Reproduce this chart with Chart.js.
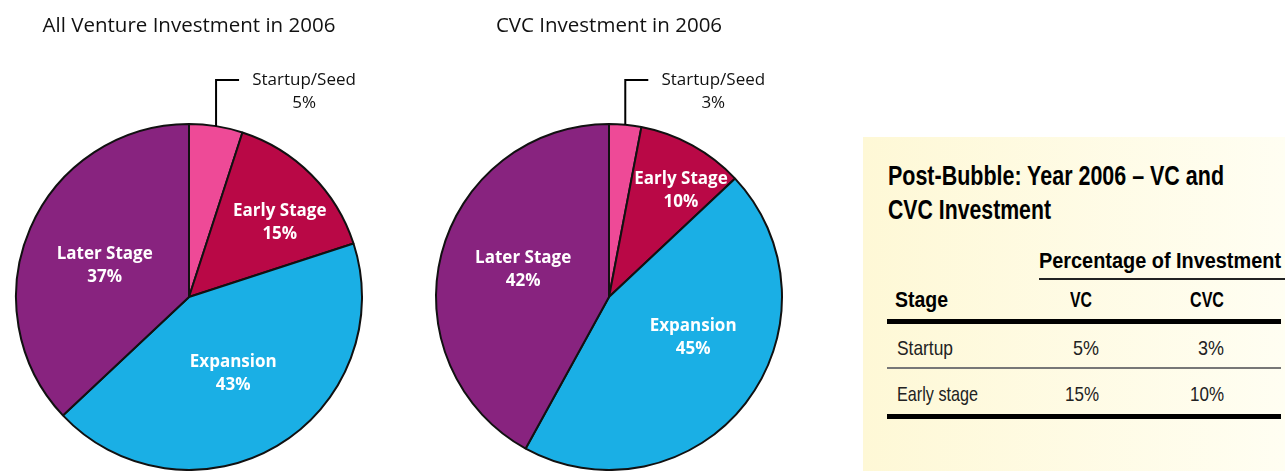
<!DOCTYPE html>
<html>
<head>
<meta charset="utf-8">
<script src="https://cdn.jsdelivr.net/npm/chart.js@4"></script>
<style>
  html,body{margin:0;padding:0;background:#fff;width:1285px;height:471px;overflow:hidden;position:relative;}
  canvas{position:absolute;top:0;}
  #panel{position:absolute;left:863px;top:137px;width:422px;height:334px;background:linear-gradient(to right,#fef8d6,#fffef2);}
  .t{position:absolute;white-space:nowrap;line-height:1;transform-origin:0 50%;font-family:"Liberation Sans",Arial,sans-serif;}
  .rule{position:absolute;background:#000;}
</style>
</head>
<body>
<canvas id="c1" width="360" height="471" style="left:10px"></canvas>
<canvas id="c2" width="360" height="471" style="left:430px"></canvas>
<div id="panel"></div>

<script>
// ---- data ----
const categories = ["Startup/Seed", "Early Stage", "Expansion", "Later Stage"];
const allVentureShare = [5, 15, 43, 37];
const cvcShare = [3, 10, 45, 42];
const chartTitles = ["All Venture Investment in 2006", "CVC Investment in 2006"];
const sliceColors = ["#ee4a97", "#b90846", "#1aafe5", "#88237f"];
const tableTitle = ["Post-Bubble: Year 2006 \u2013 VC and", "CVC Investment"];
const tableGroupHeader = "Percentage of Investment";
const tableHeaders = ["Stage", "VC", "CVC"];
const tableStages = ["Startup", "Early stage"];

Chart.defaults.font.family = "'Open Sans', sans-serif";

const sliceLabelPlugin = {
  id: 'sliceLabels',
  afterDatasetsDraw(chart, args, opts) {
    const ctx = chart.ctx;
    const meta = chart.getDatasetMeta(0);
    const values = chart.data.datasets[0].data;
    const labels = chart.data.labels;
    ctx.save();
    meta.data.forEach((arc, i) => {
      const p = arc.getProps(['x','y','startAngle','endAngle','outerRadius'], true);
      const mid = (p.startAngle + p.endAngle) / 2;
      if (i === 0) {
        // callout
        const ex = p.x + p.outerRadius * Math.cos(mid);
        const ey = p.y + p.outerRadius * Math.sin(mid);
        const topY = p.y - p.outerRadius - opts.calloutRise;
        ctx.strokeStyle = '#000';
        ctx.lineWidth = 2;
        ctx.beginPath();
        ctx.moveTo(ex, ey);
        ctx.lineTo(ex, topY);
        ctx.lineTo(ex + 23, topY);
        ctx.stroke();
        ctx.fillStyle = '#111';
        ctx.font = "17px 'Open Sans', sans-serif";
        ctx.textAlign = 'center';
        ctx.textBaseline = 'middle';
        ctx.fillText(labels[i], ex + 88, topY);
        ctx.fillText(values[i] + '%', ex + 88, topY + 23);
        return;
      }
      const a = mid + opts.shift[i] * Math.PI / 180;
      const r = p.outerRadius * opts.frac[i];
      const x = p.x + r * Math.cos(a);
      const y = p.y + r * Math.sin(a);
      ctx.fillStyle = '#fff';
      ctx.font = "bold 17px 'Open Sans', sans-serif";
      ctx.textAlign = 'center';
      ctx.textBaseline = 'middle';
      ctx.fillText(labels[i], x, y - 11.5);
      ctx.fillText(values[i] + '%', x, y + 11.5);
    });
    ctx.restore();
  }
};

function makePie(id, title, values, frac, shift) {
  return new Chart(document.getElementById(id), {
    type: 'pie',
    data: {
      labels: categories,
      datasets: [{
        data: values,
        backgroundColor: sliceColors,
        borderColor: '#111',
        borderWidth: 2
      }]
    },
    options: {
      responsive: false,
      animation: false,
      devicePixelRatio: 1,
      radius: 173,
      layout: { padding: { left: 0, right: 2, top: 0, bottom: 0 } },
      plugins: {
        legend: { display: false },
        tooltip: { enabled: false },
        title: {
          display: true,
          text: title,
          color: '#111',
          font: { family: "'Open Sans', sans-serif", size: 20.5, weight: 'normal' },
          padding: { top: 14, bottom: 84.4 }
        },
        sliceLabels: { frac: frac, shift: shift, calloutRise: 44 }
      }
    },
    plugins: [sliceLabelPlugin]
  });
}

makePie('c1', chartTitles[0], allVentureShare, [0, 0.68, 0.51, 0.52], [0, 5.5, 0.5, -3]);
makePie('c2', chartTitles[1], cvcShare, [0, 0.74, 0.54, 0.52], [0, 5.4, -12, 3]);

// ---- table panel (HTML text) ----
function addText(txt, x, cy, size, weight, width, align, color) {
  const d = document.createElement('div');
  d.className = 't';
  d.textContent = txt;
  d.style.fontSize = size + 'px';
  d.style.fontWeight = weight;
  d.style.color = color || '#000';
  document.body.appendChild(d);
  const w = d.getBoundingClientRect().width;
  const s = width / w;
  let left = x;
  if (align === 'center') left = x - width / 2;
  else if (align === 'right') left = x - width;
  d.style.left = left + 'px';
  d.style.top = (cy - size * 0.49) + 'px';
  d.style.transform = 'scaleX(' + s + ')';
  return d;
}
function addRule(x1, x2, y, h, color) {
  const r = document.createElement('div');
  r.className = 'rule';
  r.style.left = x1 + 'px';
  r.style.width = (x2 - x1) + 'px';
  r.style.top = (y - h / 2) + 'px';
  r.style.height = h + 'px';
  r.style.background = color;
  document.body.appendChild(r);
}

addText(tableTitle[0], 888, 176.5, 27, 'bold', 336, 'left');
addText(tableTitle[1], 888, 210.5, 27, 'bold', 163, 'left');
addText(tableGroupHeader, 1039, 261, 22, 'bold', 242, 'left');
addRule(1039, 1285, 279, 1.5, '#222');
addText(tableHeaders[0], 895, 300, 22, 'bold', 53, 'left');
addText(tableHeaders[1], 1081, 300, 22, 'bold', 22, 'center');
addText(tableHeaders[2], 1207, 300, 22, 'bold', 34, 'center');
addRule(887, 1281, 321, 5, '#000');
addText(tableStages[0], 897, 347, 21, 'normal', 56, 'left', '#222');
addText(allVentureShare[0] + '%', 1099, 347, 21, 'normal', 26, 'right', '#222');
addText(cvcShare[0] + '%', 1224, 347, 21, 'normal', 26, 'right', '#222');
addRule(887, 1281, 368, 1.5, '#777');
addText(tableStages[1], 897, 393, 21, 'normal', 81, 'left', '#222');
addText(allVentureShare[1] + '%', 1099, 393, 21, 'normal', 34, 'right', '#222');
addText(cvcShare[1] + '%', 1224, 393, 21, 'normal', 34, 'right', '#222');
addRule(887, 1281, 416, 5, '#000');
</script>
</body>
</html>
